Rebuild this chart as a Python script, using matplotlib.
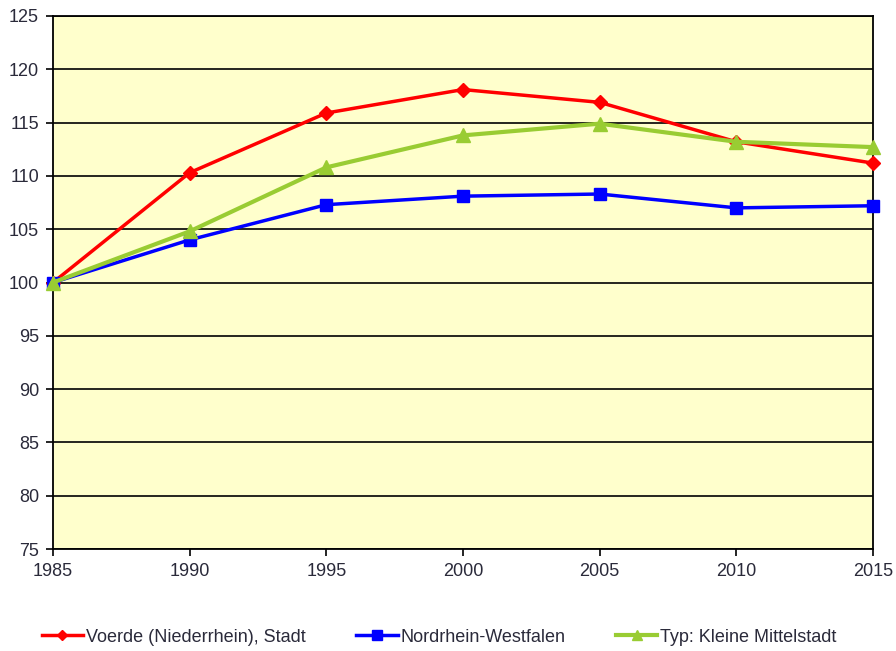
import matplotlib
matplotlib.use("Agg")
import matplotlib.pyplot as plt

plt.rcParams['font.family'] = ['Liberation Sans', 'DejaVu Sans']

years = [1985, 1990, 1995, 2000, 2005, 2010, 2015]
voerde = [100.0, 110.3, 115.9, 118.1, 116.9, 113.2, 111.2]
nrw = [100.0, 104.0, 107.3, 108.1, 108.3, 107.0, 107.2]
typ = [100.0, 104.8, 110.8, 113.8, 114.9, 113.2, 112.7]
labels = ["Voerde (Niederrhein), Stadt", "Nordrhein-Westfalen", "Typ: Kleine Mittelstadt"]
yticks = list(range(75, 126, 5))

fig = plt.figure(figsize=(8.96, 6.51), dpi=100)
ax = fig.add_axes([53/896, 102/651, 820/896, 533/651])
ax.set_facecolor('#FFFFCC')

ax.plot(years, voerde, color='#FF0000', lw=2.5, marker='D', ms=7, label=labels[0], zorder=3)
ax.plot(years, nrw, color='#0000FF', lw=2.5, marker='s', ms=9, label=labels[1], zorder=3)
ax.plot(years, typ, color='#99CC33', lw=3, marker='^', ms=10, label=labels[2], zorder=4)

ax.set_xlim(1985, 2015)
ax.set_ylim(75, 125)
ax.set_xticks(years)
ax.set_yticks(yticks)
ax.grid(axis='y', color='black', lw=1.2)
ax.set_axisbelow(True)
for s in ax.spines.values():
    s.set_color('black')
    s.set_linewidth(1.3)
ax.tick_params(direction='out', length=5, width=1.2, labelsize=13, colors='black', pad=5)
for lab in ax.get_xticklabels() + ax.get_yticklabels():
    lab.set_color('#2a2a3a')

for line in ax.lines:
    line.set_clip_on(False)

leg = fig.legend(loc='center', bbox_to_anchor=(0.49, (651-637)/651), ncol=3, frameon=False,
                 fontsize=13, handlelength=2.3, columnspacing=2.8, handletextpad=0.15,
                 markerscale=0.75)
for t in leg.get_texts():
    t.set_color('#2a2a3a')

fig.savefig('out.png', dpi=100)
